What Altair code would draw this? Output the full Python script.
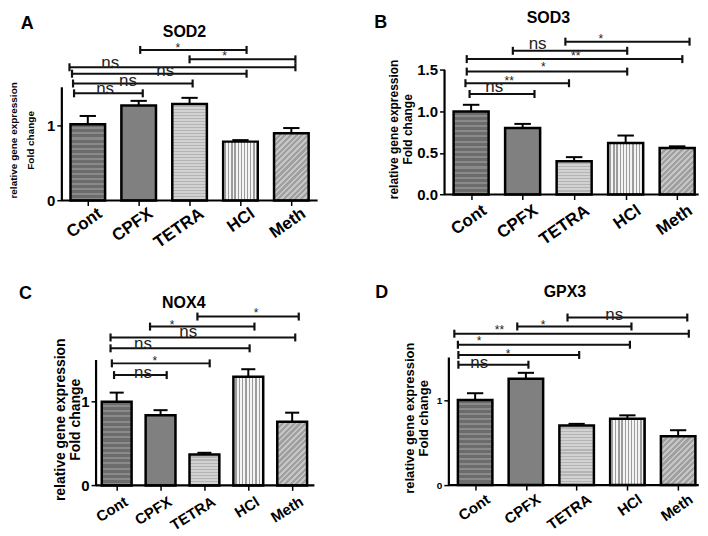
import math
import altair as alt
import pandas as pd

# ---------------- data ----------------
categories = ["Cont", "CPFX", "TETRA", "HCl", "Meth"]

sod2_mean = [1.01, 1.26, 1.28, 0.78, 0.89]
sod2_err = [1.12, 1.32, 1.36, 0.80, 0.96]
sod3_mean = [1.00, 0.80, 0.40, 0.62, 0.56]
sod3_err = [1.08, 0.85, 0.45, 0.71, 0.58]
nox4_mean = [1.00, 0.84, 0.37, 1.30, 0.76]
nox4_err = [1.11, 0.90, 0.39, 1.39, 0.87]
gpx3_mean = [1.00, 1.25, 0.70, 0.78, 0.575]
gpx3_err = [1.08, 1.32, 0.72, 0.82, 0.645]

# significance brackets: start, end (category index units), level (fold change), label, label x, label y
sod2_brackets = [
    (-0.27, 1.08, 1.42, "ns", 0.34, 1.48),
    (-0.29, 2.06, 1.55, "ns", 0.79, 1.58),
    (-0.31, 3.12, 1.68, "ns", 1.52, 1.71),
    (-0.36, 4.08, 1.765, "ns", 0.44, 1.82),
    (2.00, 4.08, 1.87, "*", 2.69, 1.95),
    (1.03, 3.12, 1.995, "*", 1.77, 2.06),
]
sod3_brackets = [
    (-0.03, 1.23, 1.21, "ns", 0.45, 1.29),
    (-0.11, 1.90, 1.34, "**", 0.74, 1.40),
    (-0.085, 3.03, 1.48, "*", 1.40, 1.57),
    (-0.085, 4.10, 1.63, "**", 2.03, 1.70),
    (0.81, 3.03, 1.73, "ns", 1.29, 1.81),
    (1.83, 4.24, 1.84, "*", 2.52, 1.91),
]
nox4_brackets = [
    (-0.06, 1.14, 1.32, "ns", 0.60, 1.34),
    (-0.11, 2.12, 1.46, "*", 0.87, 1.53),
    (-0.14, 3.03, 1.64, "ns", 0.60, 1.69),
    (-0.14, 4.07, 1.77, "ns", 1.63, 1.83),
    (0.76, 3.14, 1.90, "*", 1.26, 1.96),
    (1.84, 4.15, 2.02, "*", 3.18, 2.10),
]
gpx3_brackets = [
    (-0.33, 1.05, 1.415, "ns", 0.08, 1.43),
    (-0.33, 2.05, 1.53, "*", 0.65, 1.58),
    (-0.34, 3.05, 1.65, "*", 0.08, 1.735),
    (-0.41, 4.21, 1.78, "**", 0.48, 1.855),
    (0.83, 3.08, 1.865, "*", 1.34, 1.92),
    (1.82, 4.18, 1.97, "ns", 2.74, 2.00),
]

# ---------------- styling / layout ----------------
BOLD = "Liberation Sans"
HALF_BAR = 0.34
HALF_CAP = 0.16

panels = [
    dict(gene="SOD2", letter="A", mean=sod2_mean, err=sod2_err, br=sod2_brackets,
         xdom=(-0.51, 4.516), width=256.5, ymax=2.527, height=191.3,
         axis_x=-0.51, offset=0, yvals=[0, 1], yfmt="d", ylab=15,
         tsize=10, tlh=17, tx=-53.7, ty=130.5,
         letter_pos=(-1.19, 2.335), gene_pos=(1.90, 2.236),
         xlab=17, angle=325, lab_off=(8, 5)),
    dict(gene="SOD3", letter="B", mean=sod3_mean, err=sod3_err, br=sod3_brackets,
         xdom=(-0.516, 4.418), width=254.9, ymax=2.224, height=185.3,
         axis_x=-0.516, offset=0, yvals=[0, 0.5, 1, 1.5], yfmt=".1f", ylab=15,
         tsize=12, tlh=14, tx=-56, ty=119.5,
         letter_pos=(-1.755, 2.06), gene_pos=(1.50, 2.128),
         xlab=17, angle=325, lab_off=(9, 8)),
    dict(gene="NOX4", letter="C", mean=nox4_mean, err=nox4_err, br=nox4_brackets,
         xdom=(-1.25, 4.507), width=253.3, ymax=2.557, height=214.3,
         axis_x=-0.47, offset=-34.3, yvals=[0, 1], yfmt="d", ylab=15,
         tsize=14, tlh=15, tx=-43, ty=148,
         letter_pos=(-2.08, 2.295), gene_pos=(1.53, 2.187),
         xlab=15, angle=328, lab_off=(6, 9)),
    dict(gene="GPX3", letter="D", mean=gpx3_mean, err=gpx3_err, br=gpx3_brackets,
         xdom=(-0.603, 4.407), width=255.0, ymax=2.509, height=214.0,
         axis_x=-0.518, offset=-4.3, yvals=[0, 1], yfmt="d", ylab=10,
         tsize=13, tlh=14, tx=-45.3, ty=146.5,
         letter_pos=(-1.84, 2.257), gene_pos=(1.77, 2.268),
         xlab=15, angle=325, lab_off=(9, 7)),
]


def stripes(c1, c2, n, frac, kind, ratio=1.0):
    n = max(2, int(n))
    stops = []
    for k in range(n):
        a, b, c = k / n, (k + frac) / n, (k + 1) / n
        stops += [
            alt.GradientStop(offset=round(a, 5), color=c1),
            alt.GradientStop(offset=round(b, 5), color=c1),
            alt.GradientStop(offset=round(b, 5), color=c2),
            alt.GradientStop(offset=round(c, 5), color=c2),
        ]
    if kind == "v":
        return alt.LinearGradient(gradient="linear", stops=stops, x1=0, y1=0, x2=1, y2=0)
    if kind == "h":
        return alt.LinearGradient(gradient="linear", stops=stops, x1=0, y1=0, x2=0, y2=1)
    return alt.LinearGradient(gradient="linear", stops=stops, x1=0, y1=0, x2=1, y2=ratio)


def fill_for(k, w, h):
    if k == 0:
        return stripes("#6c6c6c", "#8a8a8a", h / 5, 0.6, "h")
    if k == 1:
        return "#808080"
    if k == 2:
        return stripes("#d2d2d2", "#b4b4b4", h / 3, 0.6, "h")
    if k == 3:
        return stripes("#f4f4f4", "#9c9c9c", w / 3, 0.6, "v")
    r = h / w
    n = ((w + h) / (1.414 * 4)) * (1 + r * r) / (1 + r)
    return stripes("#a0a0a0", "#c6c6c6", n, 0.55, "d", r)


YTITLE = ["relative gene expression", "Fold change"]


def make_panel(p):
    xs = alt.Scale(domain=list(p["xdom"]), nice=False, zero=False)
    ys = alt.Scale(domain=[0, p["ymax"]], nice=False, zero=False)
    ppx = p["width"] / (p["xdom"][1] - p["xdom"][0])
    ppy = p["height"] / p["ymax"]

    df = pd.DataFrame({"cat": categories, "i": list(range(5)),
                       "mean": p["mean"], "err": p["err"]})
    df["x0"] = df["i"] - HALF_BAR
    df["x1"] = df["i"] + HALF_BAR
    df["c0"] = df["i"] - HALF_CAP
    df["c1"] = df["i"] + HALF_CAP
    df["base"] = 0.0
    # category label anchors just below the x axis, right of each tick
    df["labx"] = df["i"] + p["lab_off"][0] / ppx
    df["laby"] = -p["lab_off"][1] / ppy

    xaxis = alt.Axis(values=[0, 1, 2, 3, 4], labels=False, domain=False, grid=False,
                     ticks=True, tickSize=5, tickWidth=1.5, tickColor="black", title=None)
    yaxis = alt.Axis(values=p["yvals"], format=p["yfmt"], labelFontSize=p["ylab"],
                     labelFont=BOLD, labelFontWeight="bold", labelColor="black",
                     labelFlush=False, labelOverlap=False, labelPadding=2, domain=False,
                     grid=False, ticks=True, tickSize=5, tickWidth=1.5, tickColor="black",
                     offset=p["offset"], title=YTITLE,
                     titleFont=BOLD, titleFontSize=p["tsize"], titleFontWeight="bold",
                     titleColor="black", titleLineHeight=p["tlh"], titleAngle=270,
                     titleAlign="center", titleBaseline="top", titleX=p["tx"], titleY=p["ty"])

    def X(field):
        return alt.X(field, scale=xs, axis=xaxis, title=None)

    def Y(field):
        return alt.Y(field, scale=ys, axis=yaxis, title=YTITLE)

    layers = []
    for k in range(5):
        w = 2 * HALF_BAR * ppx
        h = max(p["mean"][k] * ppy, 4)
        layers.append(
            alt.Chart(df.iloc[[k]]).mark_rect(fill=fill_for(k, w, h), stroke="black", strokeWidth=2.5)
            .encode(x=X("x0:Q"), x2="x1:Q", y=Y("mean:Q"), y2="base:Q")
        )

    base = alt.Chart(df)
    layers.append(base.mark_rule(color="black", strokeWidth=2).encode(
        x=X("i:Q"), y=Y("mean:Q"), y2="err:Q"))
    layers.append(base.mark_rule(color="black", strokeWidth=2).encode(
        x=X("c0:Q"), x2="c1:Q", y=Y("err:Q")))

    # rotated category labels
    layers.append(base.mark_text(font=BOLD, fontWeight="bold", fontSize=p["xlab"], color="black",
                                 angle=p["angle"], align="right", baseline="top").encode(
        x=X("labx:Q"), y=Y("laby:Q"), text="cat:N"))

    # axis lines
    ax = pd.DataFrame({"x": [p["axis_x"]], "xe": [p["xdom"][1]], "y0": [0.0], "y1": [1.5]})
    layers.append(alt.Chart(ax).mark_rule(color="black", strokeWidth=2.2).encode(
        x=X("x:Q"), y=Y("y0:Q"), y2="y1:Q"))
    layers.append(alt.Chart(ax).mark_rule(color="black", strokeWidth=2.2).encode(
        x=X("x:Q"), x2="xe:Q", y=Y("y0:Q")))

    # significance brackets
    br = pd.DataFrame(p["br"], columns=["x1", "x2", "lvl", "label", "lx", "ly"])
    layers.append(alt.Chart(br).mark_rule(color="#111", strokeWidth=2).encode(
        x=X("x1:Q"), x2="x2:Q", y=Y("lvl:Q")))
    d = 4.0 / ppy
    caps = pd.DataFrame({"x": list(br["x1"]) + list(br["x2"]),
                         "lo": list(br["lvl"] - d) * 2, "hi": list(br["lvl"] + d) * 2})
    layers.append(alt.Chart(caps).mark_rule(color="#111", strokeWidth=2.2).encode(
        x=X("x:Q"), y=Y("lo:Q"), y2="hi:Q"))
    ns = br[br["label"] == "ns"]
    st = br[br["label"] != "ns"]
    layers.append(alt.Chart(ns).mark_text(font="Liberation Sans", fontSize=17, color="#222",
                                          baseline="middle", align="center").encode(
        x=X("lx:Q"), y=Y("ly:Q"), text="label:N"))
    layers.append(alt.Chart(st).mark_text(font="Liberation Sans", fontSize=12, color="#222",
                                          baseline="middle", align="center", dy=3).encode(
        x=X("lx:Q"), y=Y("ly:Q"), text="label:N"))

    # panel letter and gene title
    ann = pd.DataFrame({"x": [p["letter_pos"][0]], "y": [p["letter_pos"][1]], "t": [p["letter"]],
                        "gx": [p["gene_pos"][0]], "gy": [p["gene_pos"][1]], "g": [p["gene"]]})
    layers.append(alt.Chart(ann).mark_text(font=BOLD, fontWeight="bold", fontSize=18, color="black",
                                           baseline="middle", align="center").encode(
        x=X("x:Q"), y=Y("y:Q"), text="t:N"))
    layers.append(alt.Chart(ann).mark_text(font=BOLD, fontWeight="bold", fontSize=16, color="black",
                                           baseline="middle", align="center").encode(
        x=X("gx:Q"), y=Y("gy:Q"), text="g:N"))

    return alt.layer(*layers).properties(width=p["width"], height=p["height"])


charts = [make_panel(p) for p in panels]

chart = alt.concat(
    *charts, columns=2, spacing=alt.RowColnumber(row=70.7, column=126.8),
    bounds="flush", align="each"
).properties(padding=0).configure_view(stroke=None)

chart.save("out.html", embed_options={"renderer": "svg", "actions": False})
